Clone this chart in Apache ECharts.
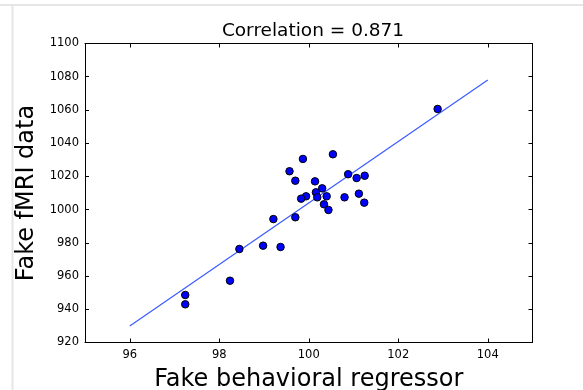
<!DOCTYPE html>
<html><head><meta charset="utf-8">
<script src="https://cdn.jsdelivr.net/npm/echarts@6/dist/echarts.min.js"></script>
<style>html,body{margin:0;padding:0;background:#fff}#c{width:583px;height:390px}</style>
</head><body><div id="c"></div>
<script>
const titleText = "Correlation = 0.871";
const xName = "Fake behavioral regressor";
const yName = "Fake fMRI data";
const xTicks = [96, 98, 100, 102, 104];
const yTicks = [920, 940, 960, 980, 1000, 1020, 1040, 1060, 1080, 1100];
const behavior = [99.87,100.54,99.57,99.70,100.14,100.88,101.07,101.25,100.30,100.16,99.94,99.83,100.19,100.40,100.80,101.12,101.24,100.34,100.44,99.70,99.21,98.45,98.98,99.37,98.24,97.24,97.24,102.88];
const fmri = [1030.5,1033.3,1023.1,1017.4,1017.0,1021.3,1019.0,1020.4,1012.8,1010.4,1008.0,1006.6,1007.4,1008.0,1007.4,1009.6,1004.2,1003.2,999.8,995.4,994.3,976.3,978.3,977.5,957.2,948.6,943.0,1060.6];
const fitX = [96, 104];
const fitY = [930, 1078];

const chart = echarts.init(document.getElementById('c'), null, {renderer:'canvas'});
const font = 'DejaVu Sans';
const lineCommon = {show:true, onZero:false, lineStyle:{color:'#000', width:1}};
const xTick = {show:true, inside:true, length:4, customValues:xTicks, lineStyle:{color:'#000', width:1}};
const yTick = {show:true, inside:true, length:4, customValues:yTicks, lineStyle:{color:'#000', width:1}};
chart.setOption({
  animation:false,
  backgroundColor:'#fff',
  title:{text:titleText, left:308, top:17, textAlign:'center',
    textStyle:{fontFamily:font, fontSize:18.5, fontWeight:'normal', color:'#000'}},
  grid:{left:85, top:43.5, right:50.5, bottom:47.5, containLabel:false, outerBoundsMode:'none'},
  xAxis:[
    {type:'value', min:95, max:105, position:'bottom',
     name:xName, nameLocation:'middle', nameGap:25.5,
     nameTextStyle:{fontFamily:font, fontSize:24, color:'#000'},
     axisLine:lineCommon, axisTick:xTick, splitLine:{show:false},
     axisLabel:{fontFamily:font, fontSize:11.5, color:'#000', margin:7, customValues:xTicks,
       formatter:v => String(v)}},
    {type:'value', min:95, max:105, position:'top',
     axisLine:lineCommon, axisTick:xTick, splitLine:{show:false}, axisLabel:{show:false}}
  ],
  yAxis:[
    {type:'value', min:920, max:1100, position:'left',
     name:yName, nameLocation:'middle', nameGap:45,
     nameTextStyle:{fontFamily:font, fontSize:24, color:'#000'},
     axisLine:lineCommon, axisTick:yTick, splitLine:{show:false},
     axisLabel:{fontFamily:font, fontSize:11.5, color:'#000', margin:6, customValues:yTicks,
       formatter:v => String(v)}},
    {type:'value', min:920, max:1100, position:'right',
     axisLine:lineCommon, axisTick:yTick, splitLine:{show:false}, axisLabel:{show:false}}
  ],
  graphic:[
    {type:'line', shape:{x1:0, y1:5, x2:583, y2:5}, style:{stroke:'#e6e6e6', lineWidth:2}},
    {type:'line', shape:{x1:12.5, y1:5, x2:12.5, y2:390}, style:{stroke:'#e6e6e6', lineWidth:2}}
  ],
  series:[
    {type:'line', data:fitX.map((x,i)=>[x, fitY[i]]), showSymbol:false, symbol:'none',
     lineStyle:{color:'#3b5bff', width:1.2}, z:2},
    {type:'scatter', data:behavior.map((x,i)=>[x, fmri[i]]), symbol:'circle', symbolSize:7.5,
     itemStyle:{color:'#0000ff', borderColor:'#000', borderWidth:1, opacity:1}, z:3}
  ]
});
</script></body></html>
